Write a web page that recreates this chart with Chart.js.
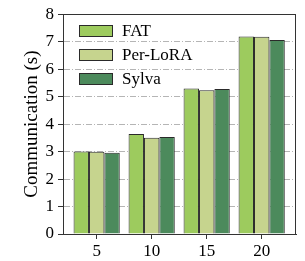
<!DOCTYPE html>
<html>
<head>
<meta charset="utf-8">
<script src="https://cdn.jsdelivr.net/npm/chart.js@4/dist/chart.umd.min.js"></script>
<style>
html,body{margin:0;padding:0;background:#fff;}
#wrap{width:305px;height:261px;position:relative;}
</style>
</head>
<body>
<div id="wrap"><canvas id="c" width="305" height="261"></canvas></div>
<script>
const categories = [5, 10, 15, 20];
const seriesNames = ["FAT", "Per-LoRA", "Sylva"];
const fatValues = [3.00, 3.64, 5.30, 7.19];
const perLoraValues = [2.99, 3.50, 5.23, 7.18];
const sylvaValues = [2.96, 3.53, 5.28, 7.06];
const yTicks = [0, 1, 2, 3, 4, 5, 6, 7, 8];
const yTitle = "Communication (s)";

const colors = ["#9dcb5e", "#c6d48e", "#4c8a5c"];
const FONT = "'Liberation Serif', 'Times New Roman', serif";

function toPoints(vals){ return categories.map((c,i)=>({x:c, y:vals[i]})); }

const legendPlugin = {
  id: 'inlegend',
  afterDatasetsDraw(chart){
    const ctx = chart.ctx;
    ctx.save();
    const x0 = 79, bw = 34, bh = 12;
    const ys = [25, 49, 73];
    chart.data.datasets.forEach((ds, i) => {
      ctx.fillStyle = ds.backgroundColor;
      ctx.fillRect(x0, ys[i], bw, bh);
      ctx.strokeStyle = '#2a2a2a';
      ctx.lineWidth = 1;
      ctx.strokeRect(x0 + 0.5, ys[i] + 0.5, bw - 1, bh - 1);
      ctx.fillStyle = '#000';
      ctx.font = "17px " + FONT;
      ctx.textBaseline = 'middle';
      ctx.textAlign = 'left';
      ctx.fillText(ds.label, 122, ys[i] + bh / 2 + 1);
    });
    ctx.restore();
  }
};

const framePlugin = {
  id: 'frame',
  afterDraw(chart){
    const a = chart.chartArea, ctx = chart.ctx;
    ctx.save();
    ctx.strokeStyle = '#333';
    ctx.lineWidth = 1;
    ctx.strokeRect(Math.round(a.left) + 0.5, Math.round(a.top) + 0.5, Math.round(a.right - a.left) - 1, Math.round(a.bottom - a.top));
    ctx.restore();
  }
};

new Chart(document.getElementById('c'), {
  type: 'bar',
  data: {
    datasets: [
      { label: seriesNames[0], data: toPoints(fatValues), backgroundColor: colors[0] },
      { label: seriesNames[1], data: toPoints(perLoraValues), backgroundColor: colors[1] },
      { label: seriesNames[2], data: toPoints(sylvaValues), backgroundColor: colors[2] }
    ].map(d => Object.assign(d, { borderColor: '#2a2a2a', borderWidth: 1, categoryPercentage: 0.84, barPercentage: 1.0 }))
  },
  options: {
    responsive: false,
    animation: false,
    devicePixelRatio: 1,
    layout: { padding: { left: 21, right: 9, top: 10, bottom: 1 } },
    plugins: { legend: { display: false }, tooltip: { enabled: false } },
    scales: {
      x: {
        type: 'linear',
        offset: false,
        min: 1.94,
        max: 23.12,
        afterBuildTicks(axis){ axis.ticks = categories.map(v => ({ value: v })); },
        afterFit(scale){ scale.height = 26; },
        ticks: { color: '#000', font: { family: FONT, size: 17, lineHeight: 1.0 }, padding: 4, maxRotation: 0, autoSkip: false },
        grid: { display: true, offset: false, drawOnChartArea: false, drawTicks: true, tickLength: 5, tickColor: '#333', tickWidth: 1 },
        border: { display: true, color: '#333', width: 1 }
      },
      y: {
        min: 0,
        max: 8,
        afterBuildTicks(axis){ axis.ticks = yTicks.map(v => ({ value: v })); },
        afterFit(scale){ scale.width = 42; },
        ticks: { color: '#000', font: { family: FONT, size: 17 }, padding: 4 },
        grid: { display: true, color: '#b5b5b5', lineWidth: 1, drawTicks: true, tickLength: 5, tickColor: '#333', tickWidth: 1, tickBorderDash: [] },
        border: { display: true, color: '#444', width: 1, dash: [6, 2, 1, 2] },
        title: { display: true, text: yTitle, color: '#000', font: { family: FONT, size: 19 }, padding: { top: 0, bottom: 0 } }
      }
    }
  },
  plugins: [legendPlugin, framePlugin]
});
</script>
</body>
</html>
